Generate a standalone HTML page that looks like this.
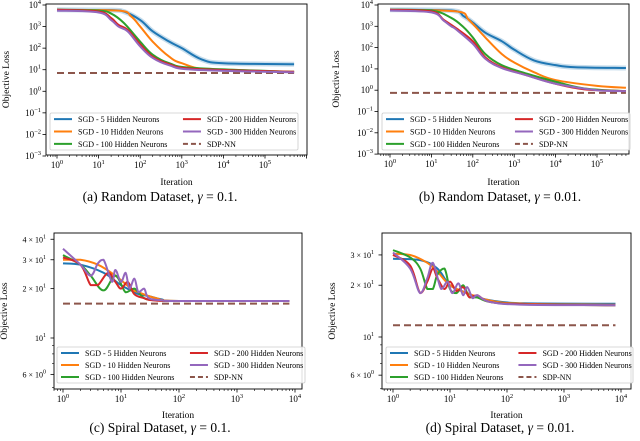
<!DOCTYPE html>
<html><head><meta charset="utf-8">
<style>
html,body{margin:0;padding:0;background:#fff;}
svg{display:block;font-family:"Liberation Serif",serif;}
</style></head>
<body>
<svg id="fig" width="640" height="441" viewBox="0 0 640 441" xmlns="http://www.w3.org/2000/svg"></svg>
<script>
// ---- data ----
const colors = ["#1f77b4","#ff7f0e","#2ca02c","#d62728","#9467bd"];
const seriesNames = ["SGD - 5 Hidden Neurons","SGD - 10 Hidden Neurons","SGD - 100 Hidden Neurons","SGD - 200 Hidden Neurons","SGD - 300 Hidden Neurons"];
const legendLabelSDP = "SDP-NN";
const captions = ["(a) Random Dataset, ","(b) Random Dataset, ","(c) Spiral Dataset, ","(d) Spiral Dataset, "];
const gammas = ["0.1.","0.01.","0.1.","0.01."];

const aBlue=[[1,6000],[20,5800],[40,5000],[100,2000],[200,600],[500,200],[1000,100],[3000,30],[10000,20],[500000,18]];
const aOrange=[[1,6000],[30,5500],[60,3000],[100,1000],[200,200],[500,40],[1000,20],[5000,10],[500000,8]];
const aGreen=[[1,6000],[10,5500],[20,4000],[40,1500],[100,200],[200,50],[500,20],[2000,12],[500000,8]];
const aRed=[[1,6000],[10,5000],[20,2500],[30,1200],[50,700],[100,150],[200,40],[500,18],[2000,11],[500000,8]];
const aPurple=[[1,5500],[10,4500],[20,2000],[30,1000],[50,600],[100,120],[200,35],[500,16],[2000,10],[500000,7.5]];
const aSDP=7;

const bBlue=[[1,6000],[30,5500],[60,3000],[100,1500],[200,500],[500,200],[1000,80],[3000,25],[10000,15],[30000,12],[500000,11]];
const bOrange=[[1,6000],[40,5000],[80,2000],[200,300],[500,50],[1000,20],[3000,7],[10000,3],[100000,1.6],[500000,1.3]];
const bGreen=[[1,6000],[10,5500],[30,2500],[60,900],[100,300],[200,50],[500,15],[2000,6],[10000,2.5],[50000,1.2],[500000,0.9]];
const bRed=[[1,6000],[10,5000],[20,2000],[40,800],[100,200],[200,35],[500,12],[2000,5],[10000,2],[50000,1.1],[500000,0.9]];
const bPurple=[[1,5500],[10,4500],[20,1800],[30,1000],[40,700],[100,150],[200,30],[500,11],[2000,5],[10000,2],[100000,1],[500000,0.9]];
const bSDP=0.75;

const cBlue=[[1,28.5],[2,28],[5,25],[10,21],[15,19.5],[20,18.5],[30,18],[50,17.2],[100,16.8],[8000,16.8]];
const cOrange=[[1,30],[2,30],[4,28],[8,24],[15,20],[20,19],[40,17.5],[100,16.8],[8000,16.8]];
const cGreen=[[1,32],[2,28],[3,24],[5,19.5],[8,24],[12,19],[17,20],[25,17.5],[40,17],[100,16.8],[8000,16.8]];
const cRed=[[1,31],[2,28],[3,21],[4,21],[6,25],[8,22],[10,20],[13,22],[17,18.5],[25,17.5],[35,17],[100,16.8],[8000,16.8]];
const cPurple=[[1,35],[2,28],[3,24],[4,28.5],[5,30],[7,22],[8,26],[10,22],[12,25],[14,20],[17,23],[20,19],[25,20],[30,17.5],[50,17],[100,16.8],[8000,16.8]];
const cSDP=16.2;

const dBlue=[[1,28.5],[3,28],[6,25],[10,20],[20,18],[30,17],[60,16.2],[200,15.7],[8000,15.6]];
const dOrange=[[1,30.5],[2,30],[4,27],[6,24],[10,20],[20,18],[50,16.3],[200,15.6],[8000,15.4]];
const dGreen=[[1,32],[2,29],[3,25],[4,19],[5,19],[6,23],[8,25],[10,19],[13,18],[17,20],[22,17],[30,17],[50,16],[200,15.5],[8000,15.3]];
const dRed=[[1,30],[2,26],[3,18],[4,21],[5,25],[6,22],[8,19],[10,21],[13,18.5],[17,19.5],[22,17],[30,17.5],[50,16],[200,15.5],[8000,15.3]];
const dPurple=[[1,31],[2,25],[3,18],[4,22],[5,27],[7,19],[9,21],[11,18],[14,20.5],[17,17.5],[20,19.5],[25,16.8],[30,17.5],[50,16],[200,15.4],[8000,15.3]];
const dSDP=11.7;

const randomYTicks=[4,3,2,1,0,-1,-2,-3];
const spiralYTicks=[[40,"4 × 10","1"],[30,"3 × 10","1"],[20,"2 × 10","1"],[10,"10","1"],[6,"6 × 10","0"]];
const spiralMinor=[9,8,7,5];

// ---- drawing ----
const NS="http://www.w3.org/2000/svg";
const svg=document.getElementById('fig');
function el(tag,attrs,parent){const e=document.createElementNS(NS,tag);for(const k in attrs)e.setAttribute(k,attrs[k]);(parent||svg).appendChild(e);return e;}
function smooth(pts){
  let d='M'+pts[0][0].toFixed(2)+','+pts[0][1].toFixed(2);
  for(let i=0;i<pts.length-1;i++){
    const p0=pts[Math.max(0,i-1)],p1=pts[i],p2=pts[i+1],p3=pts[Math.min(pts.length-1,i+2)];
    const t=0.18;
    let c1y=p1[1]+(p2[1]-p0[1])*t, c2y=p2[1]-(p3[1]-p1[1])*t;
    const lo=Math.min(p1[1],p2[1]),hi=Math.max(p1[1],p2[1]);
    c1y=Math.min(hi,Math.max(lo,c1y));c2y=Math.min(hi,Math.max(lo,c2y));
    const c1x=p1[0]+(p2[0]-p0[0])*t, c2x=p2[0]-(p3[0]-p1[0])*t;
    d+='C'+c1x.toFixed(2)+','+c1y.toFixed(2)+' '+c2x.toFixed(2)+','+c2y.toFixed(2)+' '+p2[0].toFixed(2)+','+p2[1].toFixed(2);
  }
  return d;
}

const panels=[
 {L:46,R:307,T:4,B:155,x0:57,xd:41.6,yRef:4,yRefPx:5,yd:21.57,xmaxDec:5,data:[aBlue,aOrange,aGreen,aRed,aPurple],sdp:aSDP,xEnd:500000,random:true,leg:[50,113,298,150],cx:160,capY:201,labY:185,ylx:9},
 {L:378,R:629,T:4,B:154,x0:390,xd:41.4,yRef:4,yRefPx:5,yd:21.3,xmaxDec:5,data:[bBlue,bOrange,bGreen,bRed,bPurple],sdp:bSDP,xEnd:500000,random:true,leg:[382,113,630,150],cx:500,capY:201,labY:185,ylx:339},
 {L:54,R:302,T:233,B:389,x0:63,xd:58,yRef:1,yRefPx:338,yd:164,xmaxDec:4,data:[cBlue,cOrange,cGreen,cRed,cPurple],sdp:cSDP,xEnd:8000,random:false,leg:[57,347,305,383],cx:160,capY:432,labY:418,ylx:7},
 {L:382,R:631,T:233,B:389,x0:393,xd:57,yRef:1,yRefPx:337,yd:172,xmaxDec:4,data:[dBlue,dOrange,dGreen,dRed,dPurple],sdp:dSDP,xEnd:8000,random:false,leg:[386,347,633,383],cx:500,capY:432,labY:418,ylx:335}
];

panels.forEach((p,pi)=>{
  const g=el('g',{});
  
  
  const X=v=>p.x0+Math.log10(v)*p.xd;
  const Y=v=>p.yRefPx-(Math.log10(v)-p.yRef)*p.yd;
  const clip='clip'+pi;
  const cp=el('clipPath',{id:clip},g);el('rect',{x:p.L,y:p.T,width:p.R-p.L,height:p.B-p.T},cp);
  for(let d=-1;d<=p.xmaxDec+1;d++){
    for(let m=1;m<10;m++){
      const v=Math.pow(10,d)*m;const x=X(v);
      if(x<p.L||x>p.R)continue;
      el('line',{x1:x,x2:x,y1:p.B,y2:p.B+(m==1?3.5:2),stroke:'#000','stroke-width':m==1?0.8:0.6},g);
      if(m==1&&d>=0&&d<=p.xmaxDec){
        const t=el('text',{x:x,y:p.B+13,'font-size':9,'text-anchor':'middle'},g);
        
        
        t.innerHTML='10<tspan dy="-4" font-size="6.5">'+d+'</tspan>';
      }
    }
  }
  if(p.random){
    randomYTicks.forEach(d=>{
      const y=Y(Math.pow(10,d));
      el('line',{x1:p.L-3.5,x2:p.L,y1:y,y2:y,stroke:'#000','stroke-width':0.8},g);
      const t=el('text',{x:p.L-5,y:y+3,'font-size':9,'text-anchor':'end'},g);
      
      
      t.innerHTML='10<tspan dy="-4" font-size="6.5">'+(d<0?'−'+(-d):d)+'</tspan>';
    });
  } else {
    spiralYTicks.forEach(tk=>{
      const y=Y(tk[0]);if(y<p.T+2)return;
      el('line',{x1:p.L-3.5,x2:p.L,y1:y,y2:y,stroke:'#000','stroke-width':0.8},g);
      const t=el('text',{x:p.L-8,y:y+3,'font-size':8,'text-anchor':'end'},g);
      
      
      t.innerHTML=tk[1]+'<tspan dy="-4" font-size="6">'+tk[2]+'</tspan>';
    });
    spiralMinor.forEach(v=>{const y=Y(v);el('line',{x1:p.L-2,x2:p.L,y1:y,y2:y,stroke:'#000','stroke-width':0.6},g);});
  }
  const pg=el('g',{'clip-path':'url(#'+clip+')'},g);
  const sdpLine=el('line',{x1:X(1),x2:X(p.xEnd),y1:Y(p.sdp),y2:Y(p.sdp),stroke:'#8c564b','stroke-width':2,'stroke-dasharray':'7,4'},pg);
  
  
  p.data.forEach((s,i)=>{
    const d=smooth(s.map(pt=>[X(pt[0]),Y(pt[1])]));
    if(p.random&&i==0){el('path',{d:d,fill:'none',stroke:colors[0],'stroke-opacity':0.25,'stroke-width':5,'stroke-linejoin':'round'},pg);}
    const path=el('path',{d:d,fill:'none',stroke:colors[i],'stroke-width':2,'stroke-linejoin':'round'},pg);
    
    
  });
  el('rect',{x:p.L,y:p.T,width:p.R-p.L,height:p.B-p.T,fill:'none',stroke:'#000','stroke-width':0.9},g);
  const [lx,ly,rx,by]=p.leg;
  const lg=el('g',{},g);
  
  
  el('rect',{x:lx,y:ly,width:rx-lx,height:by-ly,fill:'#fff','fill-opacity':0.85,stroke:'#ccc','stroke-width':0.8,rx:1.5},lg);
  const rowH=(by-ly)/3;
  const items=seriesNames.map((n,i)=>[n,colors[i],false]);items.push([legendLabelSDP,'#8c564b',true]);
  items.forEach((it,i)=>{
    const col=i<3?0:1,row=i%3;
    const x=lx+4+col*(rx-lx)*0.52, y=ly+rowH*(row+0.5);
    el('line',{x1:x,x2:x+18,y1:y,y2:y,stroke:it[1],'stroke-width':2,'stroke-dasharray':it[2]?'5,3':'none'},lg);
    const t=el('text',{x:x+24,y:y+3,'font-size':8},lg);
    
    
    t.textContent=it[0];
  });
  const xl=el('text',{x:(p.L+p.R)/2,y:p.labY,'font-size':9.5,'text-anchor':'middle'},g);
  
  
  xl.textContent='Iteration';
  const yl=el('text',{x:0,y:0,'font-size':9.5,'text-anchor':'middle',transform:'translate('+p.ylx+','+((p.T+p.B)/2)+') rotate(-90)'},g);
  
  
  yl.textContent='Objective Loss';
  const cap=el('text',{x:p.cx,y:p.capY,'font-size':13.5,'text-anchor':'middle'},g);
  
  
  cap.innerHTML=captions[pi]+'<tspan font-style="italic">γ</tspan> = '+gammas[pi];
});
</script>
</body></html>
